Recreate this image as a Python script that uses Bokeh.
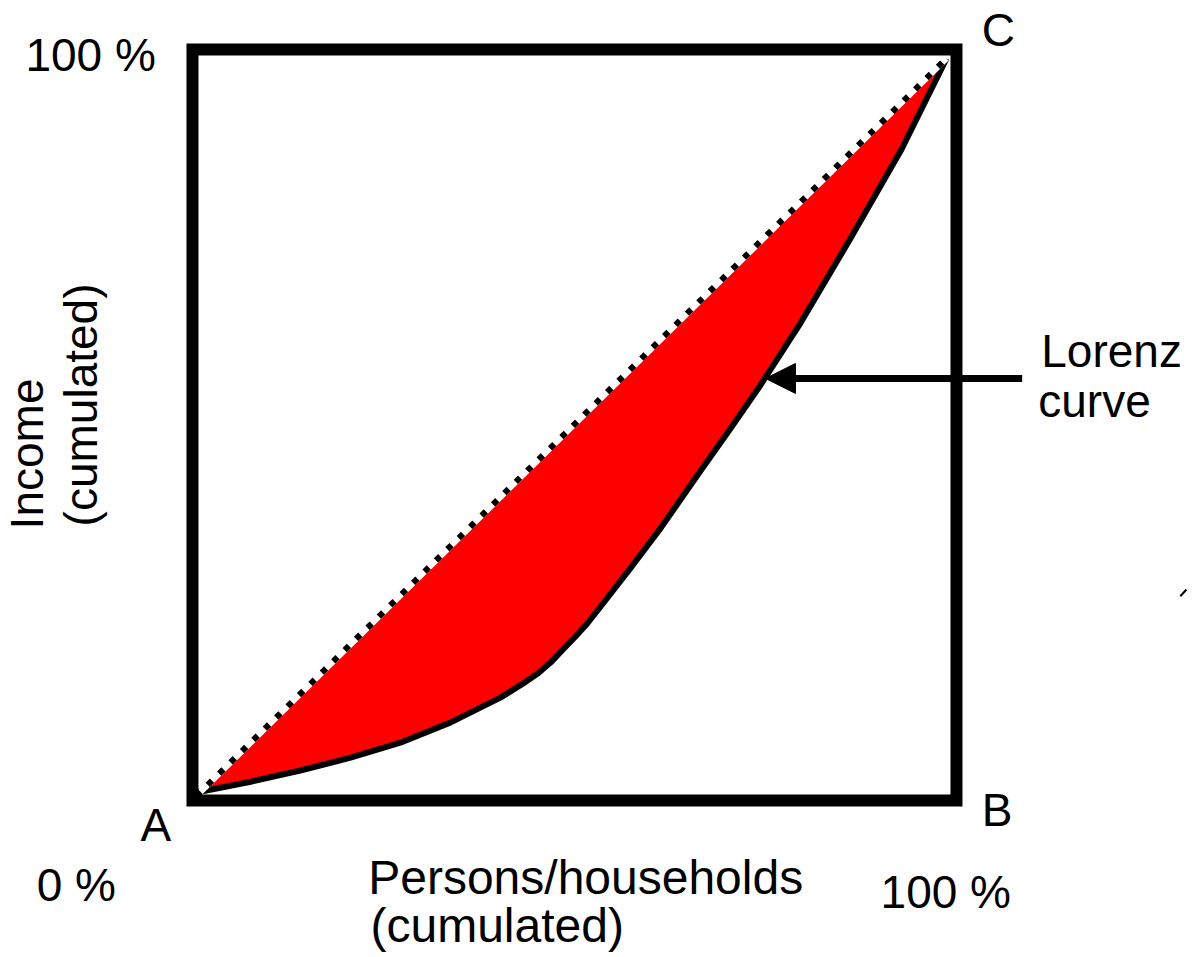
from bokeh.plotting import figure
from bokeh.models import Arrow, NormalHead, Range1d
from bokeh.core.properties import value
from bokeh.embed import file_html
from bokeh.resources import INLINE

# ---- data (percent of persons / percent of income, both cumulated) ----
lorenz_x = [0.65, 7.6, 14.1, 20.7, 27.2, 33.8, 40.3, 43.6, 45.2, 46.9, 48.4, 50.1,
            51.7, 53.4, 57.3, 61.3, 66.5, 70.4, 74.4, 79.6, 86.1, 92.7, 98.7]
lorenz_y = [1.1, 2.5, 4.0, 5.7, 7.7, 10.4, 13.7, 15.8, 16.9, 18.4, 20.0, 21.8,
            23.6, 25.8, 30.9, 36.3, 43.9, 49.5, 55.4, 63.6, 74.8, 86.5, 98.8]
equality_x = [0.5, 98.7]
equality_y = [0.6, 98.8]

box_left, box_right, box_bottom, box_top = [0], [100], [0], [100]

# horizontal labels
lab_left_text = ["C", "A", "B", "0 %", "Lorenz", "curve"]
lab_left_x = [103.3, -6.8, 103.3, -20.4, 111.1, 110.7]
lab_left_y = [102.6, -3.2, -1.2, -11.2, 59.8, 53.2]

xtitle_text = ["Persons/households", "(cumulated)"]
xtitle_x = [23.0, 23.3]
xtitle_y = [-10.3, -16.6]

lab_right_text = ["100 %"]
lab_right_x = [-4.8]
lab_right_y = [99.3]

lab_center_text = ["100 %"]
lab_center_x = [98.6]
lab_center_y = [-12.2]

# rotated y label lines
lab_rot_text = ["Income", "(cumulated)"]
lab_rot_x = [-21.7, -14.6]
lab_rot_y = [36.1, 36.5]

# arrow pointing at the Lorenz curve
arrow_tail = (108.6, 56.2)
arrow_tip = (75.0, 56.2)

# small stray stroke at the right edge
stray_x = [129.3, 130.1]
stray_y = [27.2, 28.1]

# ---- figure ----
W, H = 1200, 956
p = figure(width=W, height=H, output_backend="svg", toolbar_location=None,
           x_range=Range1d(-25.13, 131.94), y_range=Range1d(-20.77, 106.52),
           x_axis_location=None, y_axis_location=None, min_border=0,
           outline_line_color=None, background_fill_color="white",
           border_fill_color="white")
p.grid.visible = False

# red area between equality line and Lorenz curve
p.patch(lorenz_x, lorenz_y, fill_color="#ff0000", line_color=None)
# Lorenz curve
p.line(lorenz_x, lorenz_y, line_color="black", line_width=6, line_join="round")
# equality line (dotted)
p.line(equality_x, equality_y, line_color="white", line_width=6)
p.line(equality_x, equality_y, line_color="black", line_width=6, line_dash="6 10")

# box
p.quad(left=box_left, right=box_right, bottom=box_bottom, top=box_top,
       fill_color=None, line_color="black", line_width=12, line_join="miter")

# arrow
p.add_layout(Arrow(x_start=arrow_tail[0], y_start=arrow_tail[1],
                   x_end=arrow_tip[0], y_end=arrow_tip[1],
                   line_color="black", line_width=7,
                   end=NormalHead(size=30, fill_color="black", line_color="black", line_width=1)))

p.line(stray_x, stray_y, line_color="black", line_width=2)

font = value("Liberation Sans")
fs = "46px"
p.text(x=lab_left_x, y=lab_left_y, text=lab_left_text, text_font=font,
       text_font_size=fs, text_align="left", text_baseline="alphabetic", text_color="black")
p.text(x=xtitle_x, y=xtitle_y, text=xtitle_text, text_font=font,
       text_font_size="48px", text_align="left", text_baseline="alphabetic", text_color="black")
p.text(x=lab_right_x, y=lab_right_y, text=lab_right_text, text_font=font,
       text_font_size=fs, text_align="right", text_baseline="alphabetic", text_color="black")
p.text(x=lab_center_x, y=lab_center_y, text=lab_center_text, text_font=font,
       text_font_size=fs, text_align="center", text_baseline="alphabetic", text_color="black")
p.text(x=lab_rot_x, y=lab_rot_y, text=lab_rot_text, text_font=font, angle=1.5707963,
       text_font_size=fs, text_align="left", text_baseline="alphabetic", text_color="black")

open("out.html", "w").write(file_html(p, INLINE))
